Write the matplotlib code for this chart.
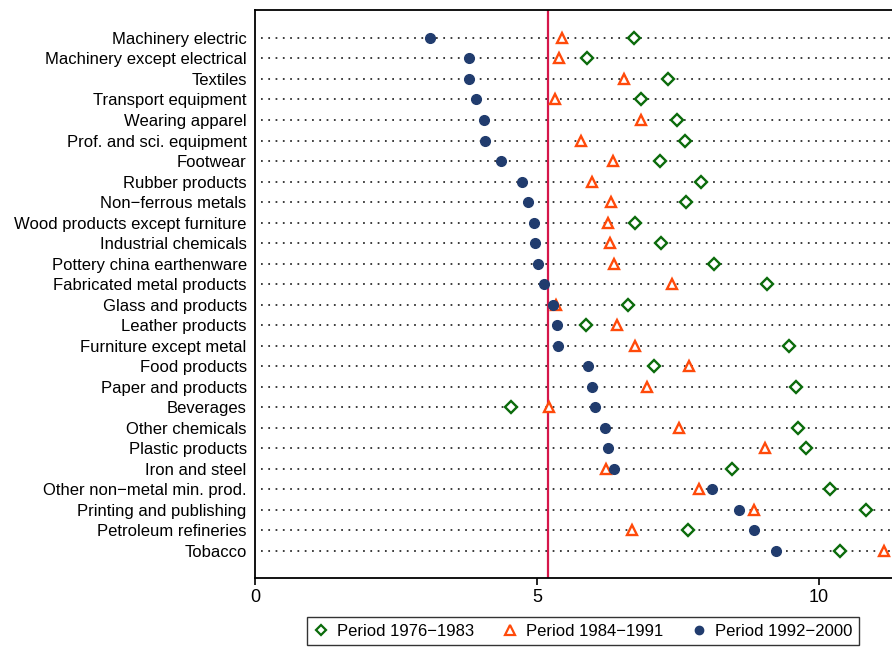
import numpy as np
import matplotlib
matplotlib.use("Agg")
import matplotlib.pyplot as plt
from matplotlib.lines import Line2D

plt.rcParams['font.family'] = ['Liberation Sans', 'DejaVu Sans']

industries = [
    "Machinery electric", "Machinery except electrical", "Textiles",
    "Transport equipment", "Wearing apparel", "Prof. and sci. equipment",
    "Footwear", "Rubber products", "Non\u2212ferrous metals",
    "Wood products except furniture", "Industrial chemicals",
    "Pottery china earthenware", "Fabricated metal products",
    "Glass and products", "Leather products", "Furniture except metal",
    "Food products", "Paper and products", "Beverages", "Other chemicals",
    "Plastic products", "Iron and steel", "Other non\u2212metal min. prod.",
    "Printing and publishing", "Petroleum refineries", "Tobacco",
]

p1976 = [6.72, 5.89, 7.32, 6.84, 7.48, 7.62, 7.18, 7.91, 7.64, 6.74, 7.20,
         8.14, 9.07, 6.62, 5.87, 9.47, 7.08, 9.60, 4.54, 9.62, 9.77, 8.45,
         10.20, 10.83, 7.67, 10.38]
p1984 = [5.44, 5.39, 6.54, 5.32, 6.84, 5.78, 6.35, 5.98, 6.31, 6.25, 6.29,
         6.36, 7.39, 5.33, 6.42, 6.73, 7.69, 6.95, 5.22, 7.51, 9.05, 6.22,
         7.87, 8.85, 6.69, 11.16]
p1992 = [3.10, 3.79, 3.80, 3.92, 4.06, 4.08, 4.36, 4.73, 4.84, 4.95, 4.97,
         5.02, 5.12, 5.28, 5.35, 5.38, 5.91, 5.97, 6.03, 6.21, 6.25, 6.37,
         8.11, 8.59, 8.84, 9.24]

ref_value = 5.2

green = "#0b6b0b"
orange = "#ff4a0a"
navy = "#213c6e"
red = "#d6164a"

fig = plt.figure(figsize=(8.92, 6.48), dpi=100)
ax = fig.add_axes([255/892, 70/648, 637/892, 568/648])

y = np.arange(len(industries))

for yi in y:
    ax.plot([0.1, 12], [yi, yi], linestyle=(0, (1, 3.2)), lw=1.25,
            color="#222222", zorder=1)

ax.axvline(ref_value, color=red, lw=1.6, zorder=2)

ax.plot(p1976, y, linestyle="none", marker="D", markersize=6.5,
        markerfacecolor="white", markeredgecolor=green, markeredgewidth=1.7,
        zorder=3)
ax.plot(p1984, y, linestyle="none", marker="^", markersize=7.6,
        markerfacecolor="white", markeredgecolor=orange, markeredgewidth=1.7,
        zorder=4)
ax.plot(p1992, y, linestyle="none", marker="o", markersize=7.0,
        color=navy, zorder=5)

ax.set_xlim(0, 637/56.4)
ax.set_ylim(25 + 1.32, -1.36)
ax.set_xticks([0, 5, 10])
ax.set_xticklabels(["0", "5", "10"], fontsize=13)
ax.set_yticks(y)
ax.set_yticklabels(industries, fontsize=12)
ax.tick_params(axis="y", length=0, pad=6)
ax.tick_params(axis="x", length=5, width=1.2, pad=3)

for side in ["left", "bottom", "top"]:
    ax.spines[side].set_linewidth(1.3)
ax.spines["right"].set_visible(False)

handles = [
    Line2D([], [], linestyle="none", marker="D", markersize=5.5,
           markerfacecolor="white", markeredgecolor=green, markeredgewidth=1.6),
    Line2D([], [], linestyle="none", marker="^", markersize=6.5,
           markerfacecolor="white", markeredgecolor=orange, markeredgewidth=1.6),
    Line2D([], [], linestyle="none", marker="o", markersize=6, color=navy),
]
labels = ["Period 1976\u22121983", "Period 1984\u22121991", "Period 1992\u22122000"]
leg = fig.legend(handles, labels, loc="center", ncol=3,
                 bbox_to_anchor=(583/892, 1 - 631/648), fontsize=12,
                 frameon=True, fancybox=False, edgecolor="black",
                 handlelength=0.9, handletextpad=0.5, columnspacing=1.7,
                 borderpad=0.4, borderaxespad=0)
leg.get_frame().set_linewidth(1.0)

fig.savefig("out.png", dpi=100)
